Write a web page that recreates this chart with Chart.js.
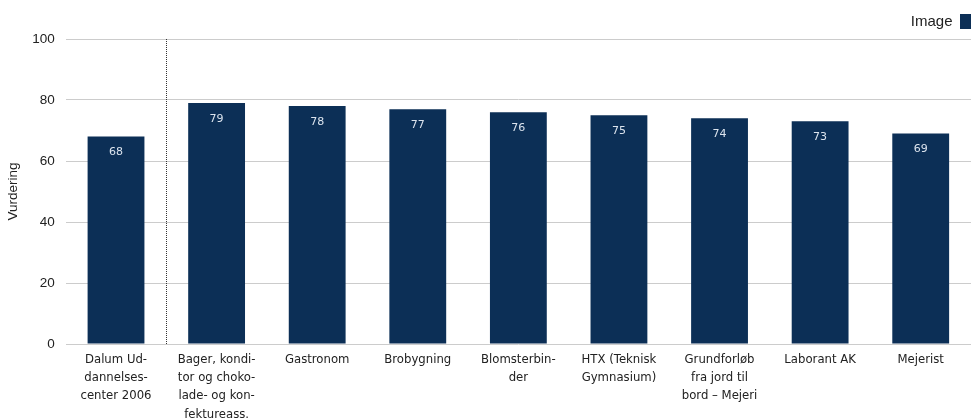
<!DOCTYPE html>
<html>
<head>
<meta charset="utf-8">
<script src="https://cdn.jsdelivr.net/npm/chart.js@4"></script>
<style>
  html, body { margin: 0; padding: 0; background: #fff; }
  #wrap { width: 971px; height: 418px; }
</style>
</head>
<body>
<div id="wrap"><canvas id="myChart"></canvas></div>
<script>
'use strict';

// categories (wrapped the way they appear under the bars)
let categories = [
  ['Dalum Ud-', 'dannelses-', 'center 2006'],
  ['Bager, kondi-', 'tor og choko-', 'lade- og kon-', 'fektureass.'],
  ['Gastronom'],
  ['Brobygning'],
  ['Blomsterbin-', 'der'],
  ['HTX (Teknisk', 'Gymnasium)'],
  ['Grundforløb', 'fra jord til', 'bord – Mejeri'],
  ['Laborant AK'],
  ['Mejerist']
];

// series values
let imageValues = [68, 79, 78, 77, 76, 75, 74, 73, 69];

// y tick settings
let yMin = 0;
let yMax = 100;
let yStep = 20;

const barColor = '#0c2f56';

// value label inside each bar + dotted separator after first bar
const barLabels = {
  id: 'barLabels',
  afterDatasetsDraw(chart) {
    const ctx = chart.ctx;
    const meta = chart.getDatasetMeta(0);
    ctx.save();
    ctx.font = '11px "DejaVu Sans", sans-serif';
    ctx.fillStyle = '#dce4ee';
    ctx.textAlign = 'center';
    ctx.textBaseline = 'middle';
    meta.data.forEach(function(bar, i) {
      ctx.fillText(String(imageValues[i]), bar.x, bar.y + 16);
    });
    // separator between first and second category
    const area = chart.chartArea;
    const sepX = Math.round((meta.data[0].x + meta.data[1].x) / 2) + 0.5;
    ctx.strokeStyle = '#333';
    ctx.lineWidth = 1;
    ctx.setLineDash([1, 1]);
    ctx.beginPath();
    ctx.moveTo(sepX, area.top);
    ctx.lineTo(sepX, area.bottom);
    ctx.stroke();
    ctx.restore();
  }
};

const ctx = document.getElementById('myChart').getContext('2d');

const chartObj = {
  type: 'bar',
  data: {
    labels: categories,
    datasets: [{
      label: 'Image',
      data: imageValues,
      backgroundColor: barColor,
      borderWidth: 0,
      barPercentage: 0.565,
      categoryPercentage: 1
    }]
  },
  options: {
    responsive: true,
    maintainAspectRatio: false,
    animation: false,
    layout: { padding: { left: 5, right: 0, top: 14, bottom: 0 } },
    plugins: {
      legend: {
        position: 'top',
        align: 'start',
        rtl: true,
        labels: {
          boxWidth: 11,
          boxHeight: 15,
          padding: 0,
          color: '#222',
          font: { family: 'Arial, "Liberation Sans", sans-serif', size: 15 }
        }
      },
      tooltip: { enabled: false }
    },
    scales: {
      x: {
        grid: { display: false, drawTicks: false },
        border: { display: false },
        afterFit(scale) {
          // labels run down to the bottom edge like in the original
          scale.height = 74;
        },
        ticks: {
          color: '#222',
          padding: 7,
          maxRotation: 0,
          autoSkip: false,
          font: { family: '"DejaVu Sans", sans-serif', size: 11.7, lineHeight: 1.55 }
        }
      },
      y: {
        min: yMin,
        max: yMax,
        grid: { color: '#cccccc', drawTicks: false },
        border: { display: false },
        ticks: {
          stepSize: yStep,
          padding: 11,
          color: '#222',
          font: { family: 'Arial, "Liberation Sans", sans-serif', size: 13.5 }
        },
        title: {
          display: true,
          text: 'Vurdering',
          color: '#222',
          padding: { top: 0, bottom: 0 },
          font: { family: 'Arial, "Liberation Sans", sans-serif', size: 13.5 }
        }
      }
    }
  },
  plugins: [barLabels]
};

const myChart = new Chart(ctx, chartObj); // eslint-disable-line
</script>
</body>
</html>
